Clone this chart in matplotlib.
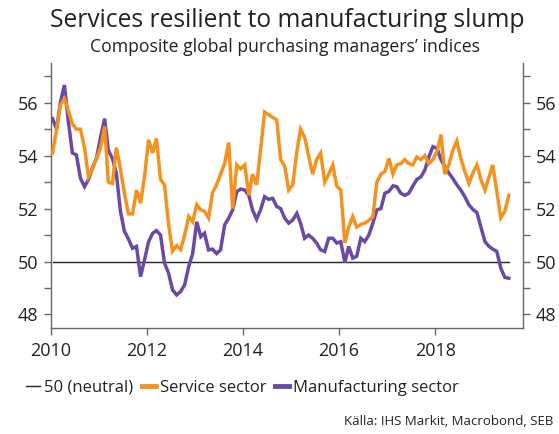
import numpy as np
import pandas as pd
import matplotlib
matplotlib.use("Agg")
import matplotlib.pyplot as plt
import matplotlib.dates as mdates
from matplotlib.ticker import MultipleLocator, FixedLocator, FixedFormatter
from matplotlib.lines import Line2D

plt.rcParams["font.family"] = ["Open Sans", "DejaVu Sans"]

# Monthly composite PMI, Jan 2010 - Jul 2019
dates = pd.date_range("2010-01-01", "2019-07-01", freq="MS") + pd.Timedelta(days=14)

service = [
    54.1, 55.0, 55.9, 56.15, 55.7, 55.2, 55.0, 55.0, 54.3, 53.2,
    53.5, 53.9, 54.3, 55.1, 53.0, 52.95, 54.3, 53.5, 52.6, 51.8,
    51.8, 52.7, 52.2, 53.2, 54.6, 54.1, 54.65, 53.1, 52.9, 51.4,
    50.4, 50.6, 50.45, 51.0, 51.7, 51.5, 52.15, 51.95, 51.9, 51.65,
    52.6, 52.9, 53.3, 53.7, 54.5, 52.0, 53.65, 53.5, 53.65, 52.5,
    53.3, 52.9, 54.2, 55.65, 55.55, 55.45, 55.35, 53.85, 53.6, 52.7,
    52.9, 54.15, 55.0, 54.7, 54.0, 53.3, 53.85, 54.1, 53.0, 53.3,
    53.65, 52.85, 52.7, 50.7, 51.3, 51.7, 51.3, 51.4, 51.45, 51.55,
    51.7, 53.0, 53.3, 53.4, 53.9, 53.3, 53.65, 53.7, 53.85, 53.7,
    53.65, 53.95, 53.85, 54.0, 53.7, 53.85, 54.15, 54.8, 53.3, 53.65,
    54.2, 54.55, 53.9, 53.4, 52.95, 53.35, 53.65, 53.1, 52.7, 53.2,
    53.65, 52.65, 51.65, 51.9, 52.5,
]

manufacturing = [
    55.4, 55.0, 56.0, 56.67, 55.3, 54.1, 54.03, 53.15, 52.83, 53.1,
    53.55, 53.9, 54.7, 55.4, 54.2, 53.9, 53.33, 51.9, 51.15, 50.85,
    50.5, 50.57, 49.43, 50.06, 50.75, 51.07, 51.17, 51.0, 49.94, 49.56,
    48.93, 48.74, 48.87, 49.12, 49.81, 50.3, 51.5, 50.94, 51.07, 50.44,
    50.47, 50.3, 50.44, 51.38, 51.64, 51.95, 52.64, 52.74, 52.7, 52.5,
    51.95, 51.6, 51.95, 52.45, 52.35, 52.39, 52.08, 52.0, 51.64, 51.45,
    51.57, 51.82, 51.45, 50.88, 51.0, 50.88, 50.7, 50.44, 50.38, 50.88,
    50.88, 50.7, 50.75, 49.96, 50.57, 50.13, 50.2, 50.88, 50.75, 51.0,
    51.45, 51.95, 52.0, 52.58, 52.65, 52.86, 52.83, 52.58, 52.5, 52.58,
    52.85, 53.1, 53.2, 53.46, 53.96, 54.34, 54.28, 53.84, 53.6, 53.35,
    53.14, 52.9, 52.7, 52.45, 52.14, 51.97, 51.85, 51.3, 50.75, 50.57,
    50.47, 50.38, 49.75, 49.4, 49.37,
]

NEUTRAL = 50.0
neutral = [NEUTRAL] * len(dates)

year_ticks = [2010, 2012, 2014, 2016, 2018]
y_major = [48, 50, 52, 54, 56]

ORANGE = "#F5921E"
PURPLE = "#6B4AA5"
TEXT = "#222222"
SPINE = "#666666"

fig = plt.figure(figsize=(5.59, 4.34), dpi=100)
ax = fig.add_axes([0.0907, 0.2449, 0.8449, 0.6099])

ax.plot(dates, neutral, color="#222222", lw=1.0, zorder=2)
ax.plot(dates, manufacturing, color=PURPLE, lw=2.5, solid_joinstyle="miter", zorder=3)
ax.plot(dates, service, color=ORANGE, lw=2.5, solid_joinstyle="miter", zorder=4)

ax.set_xlim(pd.Timestamp("2010-01-01"), pd.Timestamp("2019-10-31"))
ax.set_ylim(47.5, 57.5)

ax.xaxis.set_major_locator(FixedLocator([mdates.date2num(pd.Timestamp(f"{y}-01-01")) for y in year_ticks]))
ax.xaxis.set_major_formatter(FixedFormatter([str(y) for y in year_ticks]))
ax.yaxis.set_major_locator(FixedLocator(y_major))
ax.yaxis.set_minor_locator(MultipleLocator(1))

ax.spines["top"].set_visible(False)
for s in ("left", "right", "bottom"):
    ax.spines[s].set_color(SPINE)
    ax.spines[s].set_linewidth(1.0)

ax.tick_params(axis="y", which="both", left=True, right=True, labelleft=True,
               labelright=True, direction="out", length=5, width=1.0,
               color=SPINE, labelsize=13, labelcolor=TEXT, pad=4)
ax.tick_params(axis="x", which="major", direction="out", length=5, width=1.0,
               color=SPINE, labelsize=13, labelcolor=TEXT, pad=5)

fig.text(0.513, 0.953, "Services resilient to manufacturing slump",
         ha="center", va="center", fontsize=17.7, color=TEXT)
fig.text(0.51, 0.892, "Composite global purchasing managers\u2019 indices",
         ha="center", va="center", fontsize=12.7, color=TEXT)

handles = [
    Line2D([], [], color="#222222", lw=1.0),
    Line2D([], [], color=ORANGE, lw=3.5),
    Line2D([], [], color=PURPLE, lw=3.5),
]
labels = ["50 (neutral)", "Service sector", "Manufacturing sector"]
fig.legend(handles, labels, loc="center", bbox_to_anchor=(0.434, 0.106), ncol=3,
           frameon=False, fontsize=12, handlelength=0.85, handletextpad=0.25,
           columnspacing=0.5, labelcolor=TEXT)

fig.text(0.99, 0.014, "K\u00e4lla: IHS Markit, Macrobond, SEB", ha="right",
         va="bottom", fontsize=9.5, color=TEXT)

fig.savefig("out.png", dpi=100)
